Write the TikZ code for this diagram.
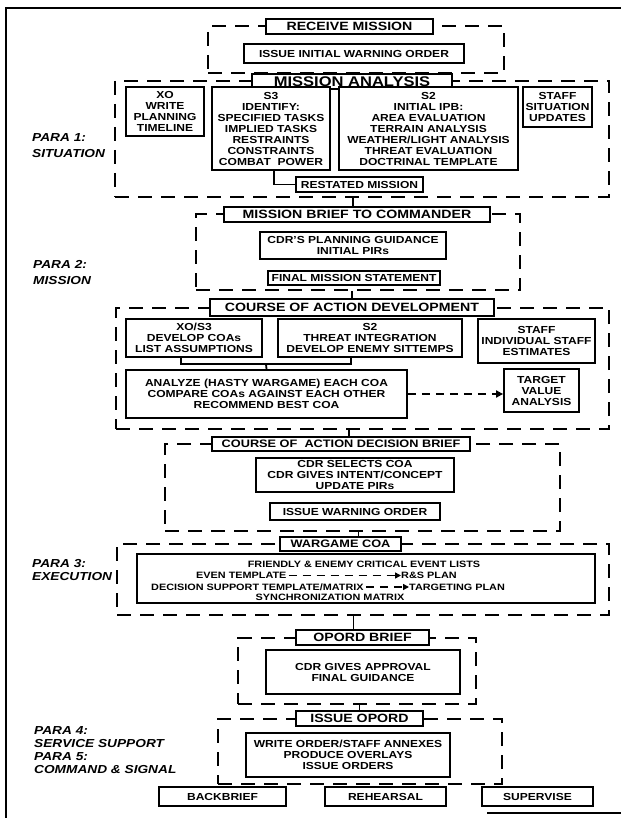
\documentclass[tikz,border=0pt]{standalone}
\usepackage{fontspec}
\setmainfont{Liberation Sans}[FakeStretch=1.18]
\usetikzlibrary{arrows.meta}
\newcommand\mybox[7]{\node[#6, minimum width={#4-#2}, minimum height={#5-#3}] (#1) at ({(#2+#4)/2},{(#3+#5)/2}) {#7};}
\tikzset{
  grp/.style={draw, line width=2pt, dash pattern=on 14pt off 9pt, inner sep=0pt},
  bx/.style={draw, fill=white, line width=1.8pt, inner sep=1pt, align=center,
             font=\bfseries\fontsize{10.2}{11}\selectfont},
  hd/.style={bx, font=\bfseries\fontsize{12}{12}\selectfont},
  para/.style={anchor=west, align=left, inner sep=0pt},
  tx/.style={inner sep=0pt, font=\bfseries\fontsize{9.2}{10}\selectfont},
  lnk/.style={line width=1.8pt},
  darr/.style={line width=1.8pt, dash pattern=on 8pt off 6pt, -{Triangle[length=7pt,width=7pt]}},
  darrs/.style={line width=1.6pt, dash pattern=on 8pt off 6pt, shorten <=2pt, -{Triangle[length=6pt,width=6pt]}},
  frame/.style={line width=2.5pt}
}
\begin{document}
\begin{tikzpicture}[x=1pt,y=-1pt]
\useasboundingbox (0,0) rectangle (621,818);
\fill[white] (0,0) rectangle (621,818);
% outer frame
\draw[frame] (6,818) -- (6,8) -- (621,8);
\draw[frame] (487,813) -- (621,813);
% dashed groups
\mybox{g1}{208}{26.5}{504}{73}{grp}{}
\mybox{g2}{115}{81}{609}{197}{grp}{}
\mybox{g3}{196}{214.5}{520}{290}{grp}{}
\mybox{g4}{116}{307.5}{609}{429}{grp}{}
\mybox{g5}{165}{444}{560}{531}{grp}{}
\mybox{g6}{117}{544}{609}{615}{grp}{}
\mybox{g7}{238}{637.5}{476}{704}{grp}{}
\mybox{g8}{218}{718.5}{502}{784}{grp}{}
% boxes
\mybox{rm}{266}{19}{433}{34}{hd}{RECEIVE MISSION}
\mybox{iiwo}{244}{44}{464}{63}{bx}{ISSUE INITIAL WARNING ORDER}
\mybox{ma}{252}{74}{452}{89}{hd, font=\bfseries\fontsize{14}{14}\selectfont}{MISSION ANALYSIS}
\mybox{xo}{126}{87}{204}{136}{bx}{XO\\WRITE\\PLANNING\\TIMELINE}
\mybox{s3}{212}{87}{330}{170}{bx}{S3\\IDENTIFY:\\SPECIFIED TASKS\\IMPLIED TASKS\\RESTRAINTS\\CONSTRAINTS\\COMBAT\ \ POWER}
\mybox{s2}{339}{87}{518}{170}{bx}{S2\\INITIAL IPB:\\AREA EVALUATION\\TERRAIN ANALYSIS\\WEATHER/LIGHT ANALYSIS\\THREAT EVALUATION\\DOCTRINAL TEMPLATE}
\mybox{st}{523}{87}{592}{127}{bx}{STAFF\\SITUATION\\UPDATES}
\mybox{rs}{296}{177}{423}{192}{bx}{RESTATED MISSION}
\mybox{mb}{224}{207}{490}{222}{hd}{MISSION BRIEF TO COMMANDER}
\mybox{pg}{260}{232}{446}{259}{bx}{CDR'S PLANNING GUIDANCE\\INITIAL PIRs}
\mybox{fm}{268}{271}{440}{285}{bx}{FINAL MISSION STATEMENT}
\mybox{cd}{210}{299}{494}{316}{hd}{COURSE OF ACTION DEVELOPMENT}
\mybox{xs}{126}{319}{262}{357}{bx}{XO/S3\\DEVELOP COAs\\LIST ASSUMPTIONS}
\mybox{s2b}{278}{319}{462}{357}{bx}{S2\\THREAT INTEGRATION\\DEVELOP ENEMY SITTEMPS}
\mybox{stb}{478}{319}{595}{363}{bx}{STAFF\\INDIVIDUAL STAFF\\ESTIMATES}
\mybox{an}{126}{370}{407}{418}{bx}{ANALYZE (HASTY WARGAME) EACH COA\\COMPARE COAs AGAINST EACH OTHER\\RECOMMEND BEST COA}
\mybox{tv}{504}{369}{579}{412}{bx}{TARGET\\VALUE\\ANALYSIS}
\mybox{db}{212}{437}{470}{451}{hd, font=\bfseries\fontsize{10.8}{11}\selectfont}{COURSE OF\ \ ACTION DECISION BRIEF}
\mybox{cs}{256}{458}{454}{492}{bx}{CDR SELECTS COA\\CDR GIVES INTENT/CONCEPT\\UPDATE PIRs}
\mybox{iwo}{270}{503}{440}{520}{bx}{ISSUE WARNING ORDER}
\mybox{wg}{280}{537}{401}{551}{hd, font=\bfseries\fontsize{10.8}{11}\selectfont}{WARGAME COA}
\mybox{fe}{137}{554}{595}{603}{bx}{}
\mybox{ob}{296}{630}{429}{645}{hd}{OPORD BRIEF}
\mybox{ap}{266}{650}{460}{694}{bx}{CDR GIVES APPROVAL\\FINAL GUIDANCE}
\mybox{io}{296}{711}{423}{726}{hd}{ISSUE OPORD}
\mybox{wo}{246}{733}{450}{777}{bx}{WRITE ORDER/STAFF ANNEXES\\PRODUCE OVERLAYS\\ISSUE ORDERS}
\mybox{bb}{159}{787}{286}{806}{bx}{BACKBRIEF}
\mybox{rh}{325}{787}{446}{806}{bx}{REHEARSAL}
\mybox{sv}{482}{787}{593}{806}{bx}{SUPERVISE}
% texts inside the event-list box
\node[tx] (fr) at (364,564) {FRIENDLY \& ENEMY CRITICAL EVENT LISTS};
\node[tx, anchor=west] (et) at (196,575.5) {EVEN TEMPLATE};
\node[tx, anchor=west] (rsp) at (401,575.5) {R\&S PLAN};
\node[tx, anchor=west] (ds) at (151,587) {DECISION SUPPORT TEMPLATE/MATRIX};
\node[tx, anchor=west] (tp) at (409,587) {TARGETING PLAN};
\node[tx] (sm) at (330,597.5) {SYNCHRONIZATION MATRIX};
\draw[darrs] (et.east) -- (rsp.west);
\draw[darrs] (ds.east) -- (tp.west);
% PARA labels
\node[para, font=\bfseries\itshape\fontsize{11.6}{16}\selectfont] (p1) at (32,145.5) {PARA 1:\\SITUATION};
\node[para, font=\bfseries\itshape\fontsize{11.6}{16}\selectfont] (p2) at (33,272.5) {PARA 2:\\MISSION};
\node[para, font=\bfseries\itshape\fontsize{11.6}{13}\selectfont] (p3) at (32,570.5) {PARA 3:\\EXECUTION};
\node[para, font=\bfseries\itshape\fontsize{11.6}{12.8}\selectfont] (p4) at (34,750) {PARA 4:\\SERVICE SUPPORT\\PARA 5:\\COMMAND \& SIGNAL};
% connectors
\draw[lnk] (g1.south -| ma.north) -- (ma.north);
\draw[lnk] ([xshift=3pt]s3.south) |- (rs.west);
\draw[lnk] ([xshift=-4pt]mb.north) -- ([xshift=-4pt]mb.north |- g2.south);
\draw[lnk] (cd.north) -- (cd.north |- g3.south);
\coordinate (jn) at (266,364);
\draw[lnk] ([xshift=-13pt]xs.south) |- ([xshift=-19pt]s2b.south |- jn) -- ([xshift=-19pt]s2b.south);
\draw[lnk] (jn) -- (an.north);
\draw[darr] (an.east) -- (an.east -| tv.west);
\draw[lnk] ([xshift=8pt]db.north) -- ([xshift=8pt]db.north |- g4.south);
\draw[lnk] ([xshift=18pt]wg.north) -- ([xshift=18pt]wg.north |- g5.south);
\draw[lnk] ([xshift=-9pt]ob.north) -- ([xshift=-9pt]ob.north |- g6.south);
\draw[lnk] (io.north) -- (io.north |- g7.south);
\end{tikzpicture}
\end{document}
